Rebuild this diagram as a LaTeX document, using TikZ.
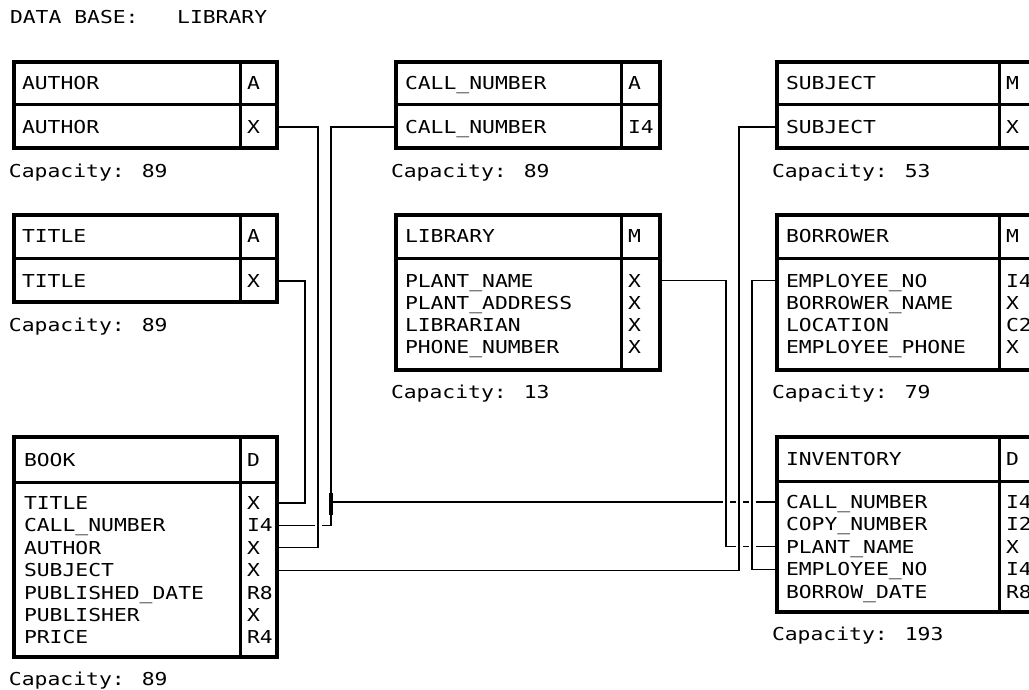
\documentclass[tikz,border=0pt]{standalone}
\usepackage{fontspec}
\newfontfamily\plotfont{DejaVu Sans Mono}[FakeStretch=1.2]
\begin{document}
\begin{tikzpicture}[x=1pt,y=-1pt,
  box/.style={draw, rectangle, line width=3.5pt, inner sep=0pt, outer sep=0pt, anchor=north west},
  div/.style={line width=3pt},
  lbl/.style={anchor=west, inner sep=0pt, outer sep=0pt, text height=13pt, text depth=0pt,
              font=\plotfont\fontsize{17.8}{20}\selectfont},
  conn/.style={line width=1.1pt},
  gap/.style={preaction={draw=white, line width=7pt}},
  jbar/.style={line width=4.5pt},
  jtab/.style={line width=2.5pt}]
\useasboundingbox (0,0) rectangle (1029,690);
\fill[white] (0,0) rectangle (1029,690);
\clip (0,0) rectangle (1029,690);

% title
\node[lbl] (dbtitle) at (10,17.5) {DATA BASE:\ \ \ LIBRARY};

% ---------- text rows (named) ----------
% AUTHOR
\node[lbl] (au0) at (22,83.5) {AUTHOR};   \node[lbl] (au0t) at (247,83.5) {A};
\node[lbl] (au1) at (22,127) {AUTHOR};    \node[lbl] (au1t) at (247,127) {X};
\node[lbl] (aucap) at (9,171) {Capacity: 89};
% CALL_NUMBER
\node[lbl] (cn0) at (405,83.5) {CALL\_NUMBER}; \node[lbl] (cn0t) at (628,83.5) {A};
\node[lbl] (cn1) at (405,127) {CALL\_NUMBER};  \node[lbl] (cn1t) at (628,127) {I4};
\node[lbl] (cncap) at (391,171) {Capacity: 89};
% SUBJECT
\node[lbl] (sj0) at (786,83.5) {SUBJECT}; \node[lbl] (sj0t) at (1006,83.5) {M};
\node[lbl] (sj1) at (786,127) {SUBJECT};  \node[lbl] (sj1t) at (1006,127) {X};
\node[lbl] (sjcap) at (772,171) {Capacity: 53};
% TITLE
\node[lbl] (ti0) at (22,236.5) {TITLE}; \node[lbl] (ti0t) at (247,236.5) {A};
\node[lbl] (ti1) at (22,281) {TITLE};   \node[lbl] (ti1t) at (247,281) {X};
\node[lbl] (ticap) at (9,325) {Capacity: 89};
% LIBRARY
\node[lbl] (lb0) at (405,236.5) {LIBRARY}; \node[lbl] (lb0t) at (628,236.5) {M};
\node[lbl] (lb1) at (405,280.5) {PLANT\_NAME};    \node[lbl] (lb1t) at (628,280.5) {X};
\node[lbl] (lb2) at (405,302.7) {PLANT\_ADDRESS}; \node[lbl] (lb2t) at (628,302.7) {X};
\node[lbl] (lb3) at (405,324.9) {LIBRARIAN};      \node[lbl] (lb3t) at (628,324.9) {X};
\node[lbl] (lb4) at (405,347.1) {PHONE\_NUMBER};  \node[lbl] (lb4t) at (628,347.1) {X};
\node[lbl] (lbcap) at (391,392) {Capacity: 13};
% BORROWER
\node[lbl] (bw0) at (786,236.5) {BORROWER}; \node[lbl] (bw0t) at (1006,236.5) {M};
\node[lbl] (bw1) at (786,280.5) {EMPLOYEE\_NO};    \node[lbl] (bw1t) at (1006,280.5) {I4};
\node[lbl] (bw2) at (786,302.7) {BORROWER\_NAME};  \node[lbl] (bw2t) at (1006,302.7) {X};
\node[lbl] (bw3) at (786,324.9) {LOCATION};        \node[lbl] (bw3t) at (1006,324.9) {C2};
\node[lbl] (bw4) at (786,347.1) {EMPLOYEE\_PHONE}; \node[lbl] (bw4t) at (1006,347.1) {X};
\node[lbl] (bwcap) at (772,392) {Capacity: 79};
% BOOK
\node[lbl] (bk0) at (24,459.5) {BOOK}; \node[lbl] (bk0t) at (247,459.5) {D};
\node[lbl] (bk1) at (24,503)   {TITLE};           \node[lbl] (bk1t) at (247,503)   {X};
\node[lbl] (bk2) at (24,525.4) {CALL\_NUMBER};    \node[lbl] (bk2t) at (247,525.4) {I4};
\node[lbl] (bk3) at (24,547.8) {AUTHOR};          \node[lbl] (bk3t) at (247,547.8) {X};
\node[lbl] (bk4) at (24,570.2) {SUBJECT};         \node[lbl] (bk4t) at (247,570.2) {X};
\node[lbl] (bk5) at (24,592.6) {PUBLISHED\_DATE}; \node[lbl] (bk5t) at (247,592.6) {R8};
\node[lbl] (bk6) at (24,615)   {PUBLISHER};       \node[lbl] (bk6t) at (247,615)   {X};
\node[lbl] (bk7) at (24,637.4) {PRICE};           \node[lbl] (bk7t) at (247,637.4) {R4};
\node[lbl] (bkcap) at (9,679) {Capacity: 89};
% INVENTORY
\node[lbl] (iv0) at (786,459) {INVENTORY}; \node[lbl] (iv0t) at (1006,459) {D};
\node[lbl] (iv1) at (786,502)   {CALL\_NUMBER};  \node[lbl] (iv1t) at (1006,502)   {I4};
\node[lbl] (iv2) at (786,524.4) {COPY\_NUMBER};  \node[lbl] (iv2t) at (1006,524.4) {I2};
\node[lbl] (iv3) at (786,546.8) {PLANT\_NAME};   \node[lbl] (iv3t) at (1006,546.8) {X};
\node[lbl] (iv4) at (786,569.2) {EMPLOYEE\_NO};  \node[lbl] (iv4t) at (1006,569.2) {I4};
\node[lbl] (iv5) at (786,591.6) {BORROW\_DATE};  \node[lbl] (iv5t) at (1006,591.6) {R8};
\node[lbl] (ivcap) at (772,634) {Capacity: 193};

% ---------- box frames (nodes, drawn later on top) ----------
\path (14,62)  node[box, draw=none, minimum width=263pt, minimum height=86pt]  (authorbox) {};
\path (396,62) node[box, draw=none, minimum width=264pt, minimum height=86pt]  (callbox) {};
\path (777,62) node[box, draw=none, minimum width=264pt, minimum height=86pt]  (subjectbox) {};
\path (14,215) node[box, draw=none, minimum width=263pt, minimum height=87pt]  (titlebox) {};
\path (396,215) node[box, draw=none, minimum width=264pt, minimum height=155pt] (librarybox) {};
\path (777,215) node[box, draw=none, minimum width=264pt, minimum height=155pt] (borrowerbox) {};
\path (14,437) node[box, draw=none, minimum width=263pt, minimum height=220pt] (bookbox) {};
\path (777,437) node[box, draw=none, minimum width=264pt, minimum height=175pt] (inventorybox) {};

% ---------- connectors ----------
\coordinate (barx) at (331,0);
\coordinate (bartop) at (331,493);
\coordinate (barbot) at (331,515);
\coordinate (barmid) at (iv1 -| barx);

\draw[conn] (titlebox.east |- ti1) -- ++(28,0) |- (bookbox.east |- bk1);
\draw[conn] (callbox.west |- cn1) -| (bartop);
\draw[conn] (bookbox.east |- bk2) -| (barbot);
\draw[jbar] (bartop) -- (barbot);
\draw[jtab] (barmid) -- ++(8,0);
\draw[conn] (barmid) -- (inventorybox.west |- iv1);
\draw[conn, gap] (librarybox.east |- lb1) -- ++(66,0) |- (inventorybox.west |- iv3);
\draw[conn, gap] (authorbox.east |- au1) -- ++(41,0) |- (bookbox.east |- bk3);
\draw[conn, gap] (bookbox.east |- bk4) -- ++(462,0) |- (subjectbox.west |- sj1);
\draw[conn, gap] (borrowerbox.west |- bw1) -- ++(-25,0) |- (inventorybox.west |- iv4);

% ---------- frames and dividers ----------
\foreach \b in {authorbox,callbox,subjectbox,titlebox,librarybox,borrowerbox,bookbox,inventorybox}
  \draw[line width=3.5pt] (\b.north west) rectangle (\b.south east);

\draw[div] (240,62) -- (240,148);   \draw[div] (14,105) -- (277,105);
\draw[div] (621,62) -- (621,148);   \draw[div] (396,105) -- (660,105);
\draw[div] (999,62) -- (999,148);   \draw[div] (777,105) -- (1041,105);
\draw[div] (240,215) -- (240,302);  \draw[div] (14,258) -- (277,258);
\draw[div] (621,215) -- (621,370);  \draw[div] (396,258) -- (660,258);
\draw[div] (999,215) -- (999,370);  \draw[div] (777,258) -- (1041,258);
\draw[div] (240,437) -- (240,657);  \draw[div] (14,482) -- (277,482);
\draw[div] (999,437) -- (999,612);  \draw[div] (777,481) -- (1041,481);
\end{tikzpicture}
\end{document}
